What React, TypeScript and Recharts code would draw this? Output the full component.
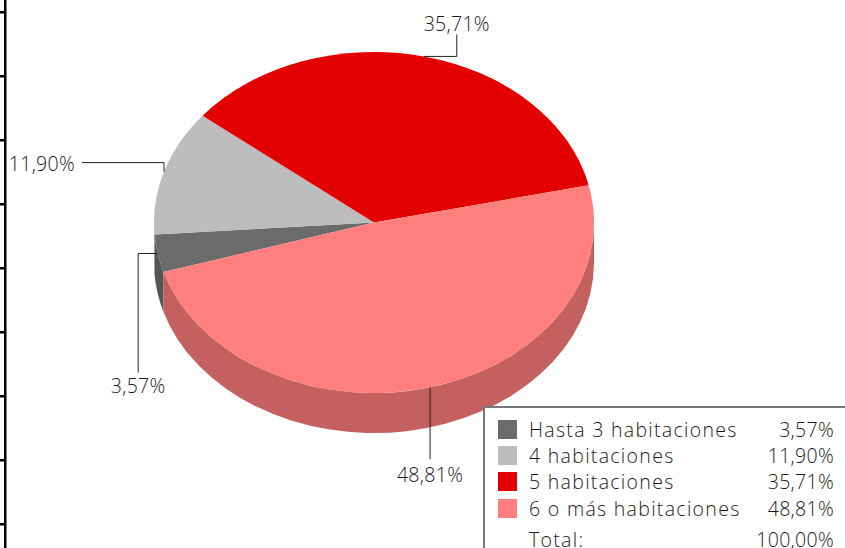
import { Pie, PieChart } from "recharts";

const categories = [
  "Hasta 3 habitaciones",
  "4 habitaciones",
  "5 habitaciones",
  "6 o más habitaciones",
];
const values = [3.57, 11.9, 35.71, 48.81];
const valueLabels = ["3,57%", "11,90%", "35,71%", "48,81%"];
const topColors = ["#6b6b6b", "#bdbdbd", "#e30000", "#ff7f7f"];
const wallColors = ["#555555", "#8f8f8f", "#a80000", "#c46060"];
const frameTicks = [12, 76, 140, 204, 268, 332, 396, 460, 524];

// elbow of each leader line, relative to the point on the rim
const leaders = [
  [[-19.5, 0], [-19.5, 119]],
  [[0, -9], [-82, -9]],
  [[33, 0], [33, -22]],
  [[0, 72]],
];
const labelOffsets = [
  { dx: 0, dy: 21, anchor: "middle" },
  { dx: -7, dy: 8, anchor: "end" },
  { dx: 0, dy: -3, anchor: "middle" },
  { dx: 0, dy: 23, anchor: "middle" },
];

const data = categories.map((name, i) => ({ name, value: values[i] }));

const RX = 220;
const RY = 170.5;
const DEPTH = 40;
const RAD = Math.PI / 180;
const FONT = "'Open Sans', sans-serif";

const rimX = (cx: number, a: number) => cx + RX * Math.cos(a * RAD);
const rimY = (cy: number, a: number) => cy - RY * Math.sin(a * RAD);

const TopSlice = (props: any) => {
  const { cx, cy, startAngle, endAngle, index } = props;
  const large = Math.abs(startAngle - endAngle) > 180 ? 1 : 0;
  const d = `M${cx},${cy} L${rimX(cx, startAngle)},${rimY(cy, startAngle)} A${RX},${RY} 0 ${large} 1 ${rimX(cx, endAngle)},${rimY(cy, endAngle)} Z`;
  return <path d={d} fill={topColors[index]} />;
};

// only the part of a slice on the lower half of the ellipse shows a side
const WallSlice = (props: any) => {
  const { cx, cy, startAngle, endAngle, index } = props;
  const hi = Math.max(startAngle, endAngle);
  const lo = Math.min(startAngle, endAngle);
  const parts = [
    [Math.max(lo, -180), Math.min(hi, 0)],
    [Math.max(lo, 180), Math.min(hi, 360)],
  ].filter(([a, b]) => b > a);
  return (
    <g>
      {parts.map(([a, b], i) => {
        const x1 = rimX(cx, b);
        const y1 = rimY(cy, b);
        const x2 = rimX(cx, a);
        const y2 = rimY(cy, a);
        const d = `M${x1},${y1} A${RX},${RY} 0 0 1 ${x2},${y2} L${x2},${y2 + DEPTH} A${RX},${RY} 0 0 0 ${x1},${y1 + DEPTH} Z`;
        return <path key={i} d={d} fill={wallColors[index]} />;
      })}
    </g>
  );
};

const LeaderLabel = (props: any) => {
  const { cx, cy, midAngle, index } = props;
  const x0 = rimX(cx, midAngle);
  const y0 = rimY(cy, midAngle);
  const legs = leaders[index];
  const last = legs[legs.length - 1];
  const off = labelOffsets[index];
  const pts = [[x0, y0], ...legs.map(([dx, dy]) => [x0 + dx, y0 + dy])];
  return (
    <g>
      <polyline
        points={pts.map((p) => p.join(",")).join(" ")}
        fill="none"
        stroke="#222222"
        strokeWidth={1}
      />
      <text
        x={x0 + last[0] + off.dx}
        y={y0 + last[1] + off.dy}
        textAnchor={off.anchor}
        fontFamily={FONT}
        fontWeight={300}
        fontSize={19.5}
        letterSpacing={0.3}
        fill="#1a1a1a"
      >
        {valueLabels[index]}
      </text>
    </g>
  );
};

const rowTops = [420, 446, 472, 499];

const Table = () => (
  <div
    style={{
      position: "absolute",
      left: 483,
      top: 406,
      width: 362,
      height: 142,
      boxSizing: "border-box",
      borderTop: "2px solid #777777",
      borderLeft: "2px solid #777777",
      background: "#ffffff",
      fontFamily: FONT,
      fontWeight: 300,
      fontSize: 19.5,
      color: "#1a1a1a",
    }}
  >
    {categories.map((name, i) => (
      <div key={name}>
        <div
          style={{
            position: "absolute",
            left: 13,
            top: rowTops[i] - 408,
            width: 19,
            height: 19,
            background: topColors[i],
          }}
        />
        <div
          style={{
            position: "absolute",
            left: 44,
            top: rowTops[i] - 411,
            lineHeight: "26px",
            whiteSpace: "nowrap",
            letterSpacing: 1.3,
          }}
        >
          {name}
        </div>
        <div
          style={{
            position: "absolute",
            right: 11,
            top: rowTops[i] - 411,
            lineHeight: "26px",
            letterSpacing: 0.3,
          }}
        >
          {valueLabels[i]}
        </div>
      </div>
    ))}
    <div style={{ position: "absolute", left: 44, top: 123, lineHeight: "18px", letterSpacing: 1.3 }}>
      Total:
    </div>
    <div style={{ position: "absolute", right: 11, top: 123, lineHeight: "18px", letterSpacing: 0.3 }}>
      100,00%
    </div>
  </div>
);

export default function App() {
  return (
    <div
      style={{
        position: "absolute",
        left: 0,
        top: 0,
        width: 845,
        height: 548,
        overflow: "hidden",
        background: "#ffffff",
      }}
    >
      <PieChart width={845} height={548} margin={{ top: 0, right: 0, bottom: 0, left: 0 }}>
        <g>
          <rect x={4} y={0} width={2.5} height={548} fill="#000000" />
          {frameTicks.map((y) => (
            <rect key={y} x={0} y={y - 1} width={5} height={2.5} fill="#000000" />
          ))}
        </g>
        <Pie
          data={data}
          dataKey="value"
          nameKey="name"
          cx={374}
          cy={222.5}
          outerRadius={RX}
          startAngle={196.9}
          endAngle={-163.1}
          stroke="none"
          shape={WallSlice}
          activeShape={WallSlice}
          isAnimationActive={false}
        />
        <Pie
          data={data}
          dataKey="value"
          nameKey="name"
          cx={374}
          cy={222.5}
          outerRadius={RX}
          startAngle={196.9}
          endAngle={-163.1}
          stroke="none"
          shape={TopSlice}
          activeShape={TopSlice}
          label={LeaderLabel}
          labelLine={false}
          isAnimationActive={false}
        />
      </PieChart>
      <Table />
    </div>
  );
}
